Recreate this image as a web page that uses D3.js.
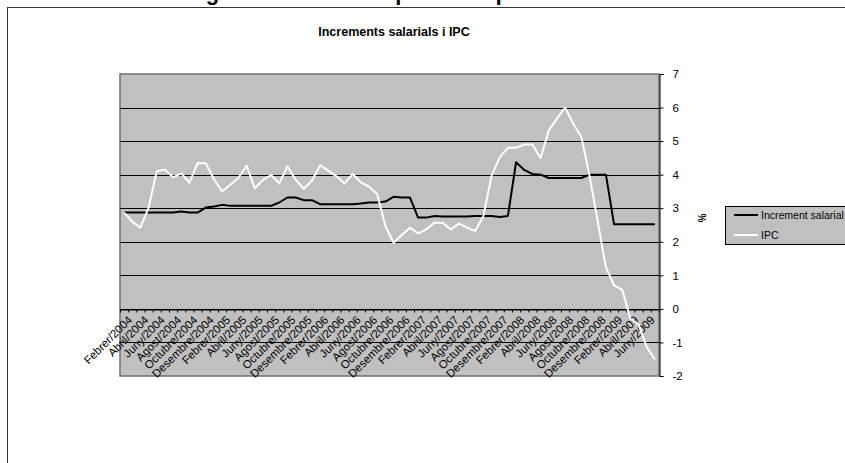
<!DOCTYPE html>
<html>
<head>
<meta charset="utf-8">
<script src="https://cdn.jsdelivr.net/npm/d3@7"></script>
<style>
	body { margin: 0; background: #fff; }
	svg { display: block; font-family: Arial, 'Liberation Sans', sans-serif; }
</style>
</head>
<body>
<svg id="chart" width="845" height="463"></svg>
<script>
// dades llegides del grafic (feb 2004 - jul 2009)
var mesos = ['Gener', 'Febrer', 'Març', 'Abril', 'Maig', 'Juny', 'Juliol', 'Agost', 'Setembre', 'Octubre', 'Novembre', 'Desembre'];

var categories = [];
for (var k = 0; k < 66; k++) {
	var m = (1 + k) % 12;
	var any = 2004 + Math.floor((1 + k) / 12);
	categories.push(mesos[m] + '/' + any);
}

var incrementSalarial = [
	2.87, 2.87, 2.87, 2.87, 2.87, 2.87, 2.87, 2.90, 2.87, 2.87,
	3.02, 3.05, 3.10, 3.07, 3.07, 3.07, 3.07, 3.07, 3.07, 3.17,
	3.32, 3.32, 3.24, 3.24, 3.12, 3.12, 3.12, 3.12, 3.12, 3.14,
	3.17, 3.17, 3.20, 3.34, 3.32, 3.32, 2.72, 2.72, 2.77, 2.75,
	2.75, 2.75, 2.75, 2.77, 2.77, 2.77, 2.74, 2.77, 4.37, 4.14,
	4.02, 4.00, 3.90, 3.90, 3.90, 3.90, 3.90, 4.00, 4.00, 4.00,
	2.52, 2.52, 2.52, 2.52, 2.52, 2.52
];

var ipc = [
	2.87, 2.60, 2.42, 3.02, 4.10, 4.15, 3.92, 4.04, 3.76, 4.34,
	4.34, 3.87, 3.50, 3.70, 3.90, 4.27, 3.59, 3.84, 3.99, 3.74,
	4.25, 3.85, 3.58, 3.82, 4.28, 4.12, 3.95, 3.74, 4.02, 3.77,
	3.64, 3.42, 2.47, 1.97, 2.20, 2.42, 2.25, 2.37, 2.57, 2.57,
	2.37, 2.54, 2.42, 2.32, 2.77, 3.97, 4.52, 4.80, 4.80, 4.90,
	4.90, 4.49, 5.32, 5.67, 6.00, 5.52, 5.12, 3.96, 2.60, 1.24,
	0.70, 0.57, -0.30, -0.47, -1.14, -1.51
];

var yTicks = [-2, -1, 0, 1, 2, 3, 4, 5, 6, 7];

var series = [
	{ name: 'Increment salarial', values: incrementSalarial, color: '#000' },
	{ name: 'IPC', values: ipc, color: '#fff' }
];

var svg = d3.select('svg#chart');

var plot = { left: 120, right: 659, top: 74, bottom: 376 };

var x = d3.scaleBand()
	.domain(categories)
	.range([plot.left, plot.right]);

var xIndex = d3.scaleLinear()
	.domain([0, categories.length])
	.range([plot.left, plot.right]);

var y = d3.scaleLinear()
	.domain([-2, 7])
	.range([plot.bottom, plot.top]);

// capcalera de la pagina, tallada a dalt
svg.append('text')
	.attr('x', 372)
	.attr('y', -0.5)
	.style('text-anchor', 'middle')
	.style('font-size', '22px')
	.style('font-weight', 'bold')
	.text('Negociació salarial i poder adquisitiu');

// area del grafic
svg.append('rect')
	.attr('x', 7.5)
	.attr('y', 7.5)
	.attr('width', 900)
	.attr('height', 600)
	.style('fill', '#fff')
	.style('stroke', '#333')
	.style('stroke-width', 1);

svg.append('text')
	.attr('x', 394)
	.attr('y', 36)
	.style('text-anchor', 'middle')
	.style('font-size', '12.5px')
	.style('font-weight', 'bold')
	.text('Increments salarials i IPC');

// area de dibuix
svg.append('rect')
	.attr('x', plot.left)
	.attr('y', plot.top)
	.attr('width', plot.right - plot.left)
	.attr('height', plot.bottom - plot.top)
	.style('fill', '#c0c0c0')
	.style('stroke', '#707070')
	.style('stroke-width', 1.5);

svg.append('g')
	.selectAll('line')
	.data(yTicks.filter(function (d) { return d > -2 && d < 7; }))
	.enter()
	.append('line')
	.attr('x1', plot.left)
	.attr('x2', plot.right)
	.attr('y1', function (d) { return Math.round(y(d)) + 0.5; })
	.attr('y2', function (d) { return Math.round(y(d)) + 0.5; })
	.style('stroke', '#000')
	.style('stroke-width', 1);

// eix x a la linia del zero
var xAxis = d3.axisBottom(xIndex)
	.tickValues(d3.range(categories.length + 1))
	.tickFormat('')
	.tickSizeInner(3)
	.tickSizeOuter(0);

svg.append('g')
	.attr('transform', 'translate(0,' + (Math.round(y(0)) + 0.5) + ')')
	.call(xAxis)
	.call(function (g) {
		g.selectAll('line, path').style('stroke', '#000');
	});

svg.append('g')
	.selectAll('text')
	.data(categories.filter(function (d, i) { return i % 2 === 0; }))
	.enter()
	.append('text')
	.attr('transform', function (d) {
		return 'translate(' + (x(d) + x.bandwidth() / 2 + 6) + ',' + (y(0) + 9) + ') rotate(-45)';
	})
	.style('text-anchor', 'end')
	.style('font-size', '11.5px')
	.attr('dy', '0.35em')
	.text(function (d) { return d; });

// eix y a la dreta
var yAxis = d3.axisRight(y)
	.tickValues(yTicks)
	.tickSize(4)
	.tickPadding(9)
	.tickFormat(function (d) { return String(d); });

svg.append('g')
	.attr('transform', 'translate(' + (plot.right + 0.5) + ',0)')
	.call(yAxis)
	.call(function (g) {
		g.selectAll('line, path').style('stroke', '#000');
		g.selectAll('text')
			.style('font-size', '11.5px')
			.style('font-family', 'Arial, "Liberation Sans", sans-serif')
			.style('fill', '#000');
	});

svg.append('text')
	.attr('transform', 'translate(706,218) rotate(-90)')
	.style('text-anchor', 'middle')
	.style('font-size', '10px')
	.style('font-weight', 'bold')
	.text('%');

// linies
var line = d3.line()
	.x(function (d, i) { return x(categories[i]) + x.bandwidth() / 2; })
	.y(function (d) { return y(d); });

svg.append('g')
	.selectAll('path')
	.data(series)
	.enter()
	.append('path')
	.attr('d', function (d) { return line(d.values); })
	.style('fill', 'none')
	.style('stroke', function (d) { return d.color; })
	.style('stroke-width', 2)
	.style('stroke-linejoin', 'round');

// llegenda
var legend = svg.append('g')
	.attr('transform', 'translate(725,206)');

legend.append('rect')
	.attr('x', 0.5)
	.attr('y', 0.5)
	.attr('width', 140)
	.attr('height', 38)
	.style('fill', '#c0c0c0')
	.style('stroke', '#000');

var items = legend.selectAll('g.item')
	.data(series)
	.enter()
	.append('g')
	.attr('class', 'item')
	.attr('transform', function (d, i) {
		return 'translate(0,' + (9 + i * 20) + ')';
	});

items.append('line')
	.attr('x1', 9)
	.attr('x2', 33)
	.style('stroke', function (d) { return d.color; })
	.style('stroke-width', 2);

items.append('text')
	.attr('x', 36)
	.attr('dy', '0.35em')
	.style('font-size', '10.5px')
	.text(function (d) { return d.name; });
</script>
</body>
</html>
